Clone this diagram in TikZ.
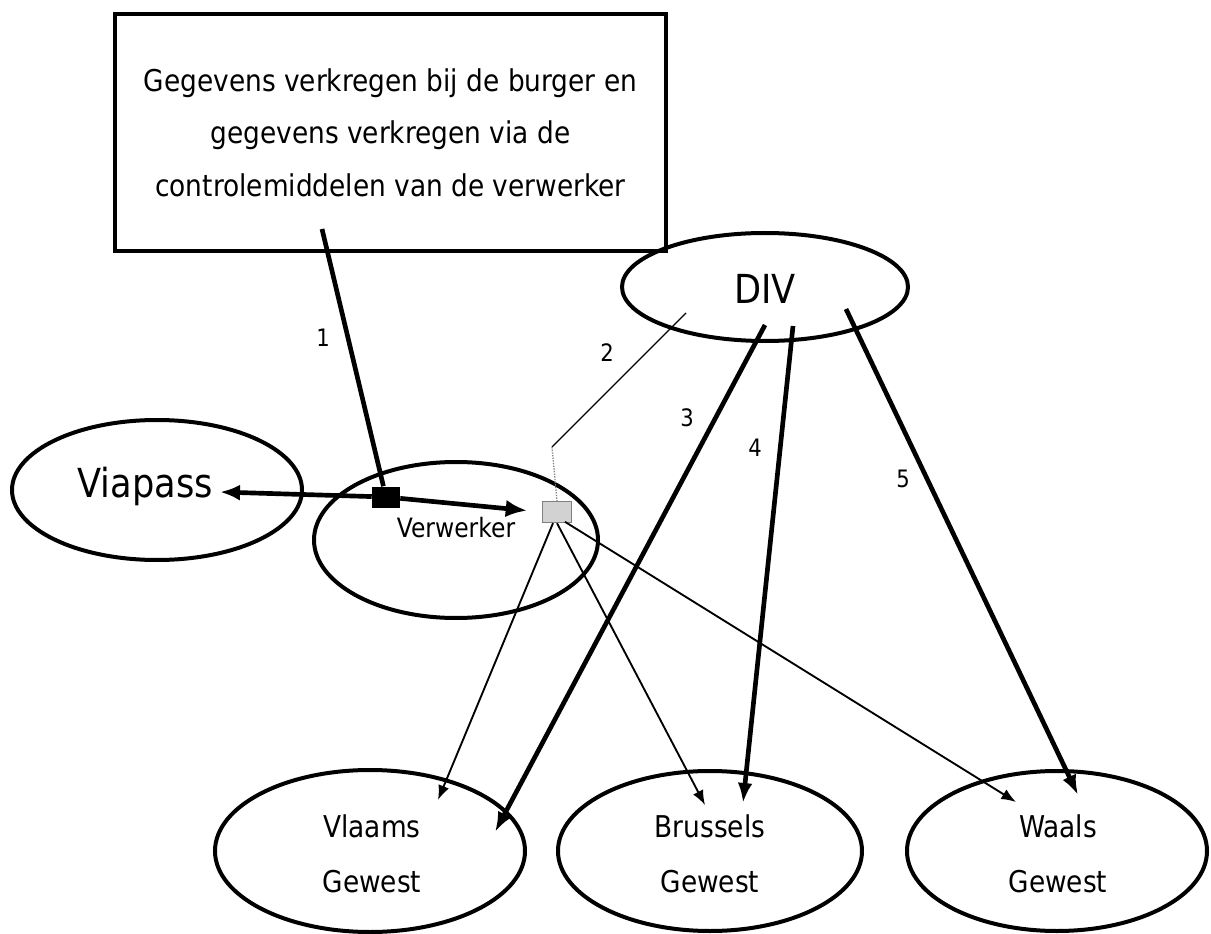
\documentclass[tikz,border=0pt]{standalone}
\usepackage{fontspec}
\setmainfont[FakeStretch=0.88]{DejaVu Sans}
\usetikzlibrary{arrows.meta,shapes.geometric}
\begin{document}
\begin{tikzpicture}[x=0.75pt,y=-0.75pt,
  ell/.style={draw, ellipse, line width=3pt, inner sep=0pt},
  regtext/.style={align=center, font=\fontsize{22.5pt}{41.25pt}\selectfont},
  bigtext/.style={font=\fontsize{30pt}{30pt}\selectfont},
  thickline/.style={line width=3.5pt},
  thickarr/.style={line width=3.5pt, -{Latex[length=15pt,width=11pt]}},
  thinarr/.style={line width=1.4pt, -{Latex[length=11pt,width=8.5pt]}},
  num/.style={font=\fontsize{18pt}{18pt}\selectfont}
]
\useasboundingbox (0,0) rectangle (1211,934);
\fill[white] (0,0) rectangle (1211,934);

% nodes
\node[draw, line width=2.5pt, minimum width=413.25pt, minimum height=177.75pt,
      align=center, font=\fontsize{22.5pt}{39.4pt}\selectfont] (box) at (390.5,132.5)
  {Gegevens verkregen bij de burger en\\gegevens verkregen via de\\controlemiddelen van de verwerker};

\node[ell, minimum width=214.5pt, minimum height=81pt] (div) at (765,287) {};
\node[bigtext] (divtext) at (765,289) {DIV};

\node[ell, minimum width=217.5pt, minimum height=105pt] (viapass) at (157,490) {};
\node[bigtext] (viapasstext) at (145,486) {Viapass};

\node[ell, minimum width=213pt, minimum height=117pt] (verwerker) at (456,540) {};
\node[font=\fontsize{20pt}{20pt}\selectfont] (verwerkertext) at (456,528) {Verwerker};

\node[ell, minimum width=232.5pt, minimum height=121.5pt] (vlaams) at (370,851) {};
\node[regtext] (vlaamstext) at (372,854) {Vlaams\\Gewest};

\node[ell, minimum width=228pt, minimum height=120pt] (brussels) at (710,851) {};
\node[regtext] (brusselstext) at (710,854) {Brussels\\Gewest};

\node[ell, minimum width=225pt, minimum height=120pt] (waals) at (1057,851) {};
\node[regtext] (waalstext) at (1058,854) {Waals\\Gewest};

\node[fill=black, inner sep=0pt, minimum width=21pt, minimum height=15.75pt] (hub) at (386,497) {};
\node[draw=gray, fill=gray!35, line width=1pt, inner sep=0pt, minimum width=22pt, minimum height=15.75pt] (sq) at (557,512) {};

% coordinates for free ends
\coordinate (c1) at (322,229);
\coordinate (vtip) at (220,492);
\coordinate (d2) at (686,313);
\coordinate (bend2) at (552,447);
\coordinate (d3) at (765,325);
\coordinate (d4) at (793,326);
\coordinate (d5) at (846,309);
\coordinate (t3) at (495,832);
\coordinate (t4) at (743,803);
\coordinate (t5) at (1078,795);
\coordinate (tv) at (438,800);
\coordinate (tb) at (705,805);
\coordinate (tw) at (1016,802);

% connectors
\draw[thickline] (c1) -- (hub);
\draw[line width=3.5pt, -{Latex[length=15pt,width=12pt]}] (hub) -- (vtip);
\draw[line width=3.5pt, -{Latex[length=16pt,width=13pt]}, shorten >=11pt] (hub) -- (sq.west);

\draw[line width=1pt] (d2) -- (bend2);
\draw[gray, line width=1pt, densely dotted] (bend2) -- (sq.north);

\draw[thickarr] (d3) -- (t3);
\draw[thickarr] (d4) -- (t4);
\draw[thickarr] (d5) -- (t5);

\draw[thinarr] ([xshift=-3pt]sq.south) -- (tv);
\draw[thinarr] (sq.south) -- (tb);
\draw[thinarr] ([xshift=6pt,yshift=1pt]sq.south) -- (tw);

% labels
\node[num] (n1) at (323,338) {1};
\node[num] (n2) at (607,353) {2};
\node[num] (n3) at (687,418) {3};
\node[num] (n4) at (755,448) {4};
\node[num] (n5) at (903,479) {5};
\end{tikzpicture}
\end{document}
